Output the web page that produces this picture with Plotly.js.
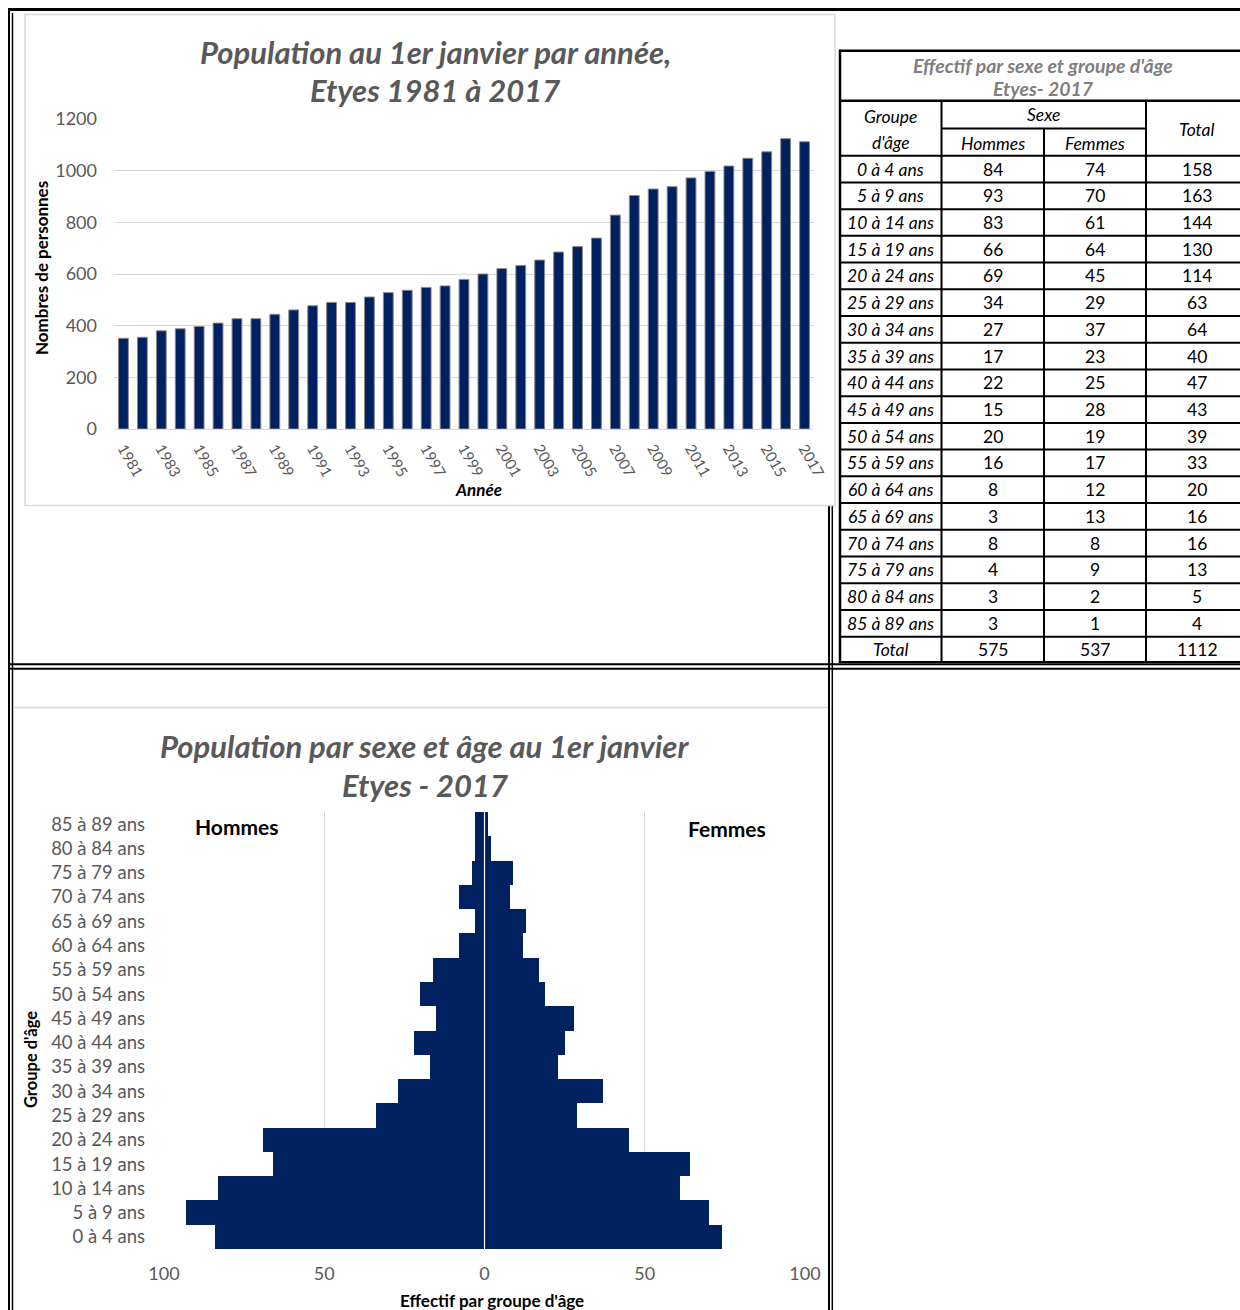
<!DOCTYPE html>
<html>
<head>
<meta charset="utf-8">
<script src="https://cdn.plot.ly/plotly-3.0.1.min.js"></script>
<style>
  html, body { margin: 0; padding: 0; background: #ffffff; }
  #page { width: 1240px; height: 1310px; }
</style>
</head>
<body>
<div id="page"></div>
<script>
// Population au 1er janvier, Etyes 1981-2017
const years = [1981, 1982, 1983, 1984, 1985, 1986, 1987, 1988, 1989, 1990,
               1991, 1992, 1993, 1994, 1995, 1996, 1997, 1998, 1999, 2000,
               2001, 2002, 2003, 2004, 2005, 2006, 2007, 2008, 2009, 2010,
               2011, 2012, 2013, 2014, 2015, 2016, 2017];
const population = [351, 355, 380, 388, 397, 410, 427, 427, 444, 461,
                    477, 490, 490, 511, 528, 537, 548, 554, 579, 600,
                    621, 633, 654, 685, 706, 739, 828, 904, 929, 938,
                    972, 997, 1018, 1048, 1073, 1124, 1112];
const yearTickLabels = ["1981", "1983", "1985", "1987", "1989", "1991", "1993",
                        "1995", "1997", "1999", "2001", "2003", "2005", "2007",
                        "2009", "2011", "2013", "2015", "2017"];

// Effectif par sexe et groupe d'âge, 2017
const ageGroups = ["0 à 4 ans", "5 à 9 ans", "10 à 14 ans", "15 à 19 ans", "20 à 24 ans",
                   "25 à 29 ans", "30 à 34 ans", "35 à 39 ans", "40 à 44 ans", "45 à 49 ans",
                   "50 à 54 ans", "55 à 59 ans", "60 à 64 ans", "65 à 69 ans", "70 à 74 ans",
                   "75 à 79 ans", "80 à 84 ans", "85 à 89 ans"];
const hommes = [84, 93, 83, 66, 69, 34, 27, 17, 22, 15, 20, 16, 8, 3, 8, 4, 3, 3];
const femmes = [74, 70, 61, 64, 45, 29, 37, 23, 25, 28, 19, 17, 12, 13, 8, 9, 2, 1];
const pyramidTickVals = [-100, -50, 0, 50, 100];
const pyramidTickText = ["100", "50", "0", "50", "100"];

// ---- page geometry helpers (pixel -> paper) ----
const W = 1240, H = 1310;
const px = x => x / W;
const py = y => 1 - y / H;

const FONT = "Lato, 'Open Sans', sans-serif";
const NAVY = "#002060";
const GREY_TXT = "#595959";
const GRID = "#d9d9d9";

const shapes = [];
const annotations = [];

function hline(x0, x1, y, width, color) {
  shapes.push({type: "line", xref: "paper", yref: "paper",
    x0: px(x0), x1: px(x1), y0: py(y), y1: py(y),
    line: {color: color || "#000000", width: width}});
}
function vline(x, y0, y1, width, color) {
  shapes.push({type: "line", xref: "paper", yref: "paper",
    x0: px(x), x1: px(x), y0: py(y0), y1: py(y1),
    line: {color: color || "#000000", width: width}});
}
function label(text, x, y, size, opts) {
  opts = opts || {};
  annotations.push(Object.assign({
    text: text, xref: "paper", yref: "paper", x: px(x), y: py(y),
    xanchor: "center", yanchor: "middle", showarrow: false,
    font: {family: FONT, size: size, color: opts.color || "#000000"}
  }, opts.extra || {}));
}

// ---- page frame (double rules) ----
hline(8, 1240, 9.5, 3);
vline(9, 8, 1310, 2);
vline(12.5, 13, 1310, 1.5);
hline(8, 1240, 664.3, 2);
hline(8, 1240, 668.7, 2);
vline(829, 505, 1310, 2);
vline(832.3, 505, 1310, 1.5);

// chart frames
shapes.push({type: "rect", xref: "paper", yref: "paper",
  x0: px(25), x1: px(835), y0: py(505.5), y1: py(14.5),
  line: {color: GRID, width: 1.5}, fillcolor: "rgba(0,0,0,0)"});
hline(13, 828, 707.5, 1.5, GRID);

// ---- bar chart titles ----
label("<b><i>Population au 1er janvier par année,</i></b>", 435, 52, 31, {color: GREY_TXT});
label("<b><i>Etyes 1981 à 2017</i></b>", 435, 90, 31, {color: GREY_TXT});
label("<b>Nombres de personnes</b>", 42, 268, 17, {extra: {textangle: -90}});
label("<b><i>Année</i></b>", 478, 489, 17);

// ---- pyramid titles ----
label("<b><i>Population par sexe et âge au 1er janvier</i></b>", 425, 746, 31, {color: GREY_TXT});
label("<b><i>Etyes - 2017</i></b>", 425, 785, 31, {color: GREY_TXT});
label("<b>Hommes</b>", 237, 826, 21);
label("<b>Femmes</b>", 727, 828, 21);
label("<b>Groupe d'âge</b>", 31, 1060, 16.5, {extra: {textangle: -90}});
label("<b>Effectif par groupe d'âge</b>", 492, 1300, 17);

// white centre rule of the pyramid
shapes.push({type: "line", xref: "x2", yref: "y2 domain",
  x0: 0, x1: 0, y0: 0, y1: 1, line: {color: "#ffffff", width: 1.2}, layer: "above"});

// ---- table ----
const T = {left: 840, c1: 941.5, c2: 1044, c3: 1146, right: 1240,
           top: 50.7, titleBottom: 100.7, sexeBottom: 128.5, headBottom: 155.7,
           rowH: 26.72, bottom: 662};
const colCenters = [(T.left + T.c1) / 2, (T.c1 + T.c2) / 2, (T.c2 + T.c3) / 2, (T.c3 + 1248) / 2];
const CELL = 17.5;

// title row
label("<b><i>Effectif par sexe et groupe d'âge</i></b>", 1043, 66, 19.5, {color: "#7f7f7f"});
label("<b><i>Etyes- 2017</i></b>", 1043, 88, 19.5, {color: "#7f7f7f"});
// header rows
label("<i>Groupe</i>", colCenters[0], 116, CELL);
label("<i>d'âge</i>", colCenters[0], 142, CELL);
label("<i>Sexe</i>", (T.c1 + T.c3) / 2, 115, CELL);
label("<i>Hommes</i>", colCenters[1], 143, CELL);
label("<i>Femmes</i>", colCenters[2], 143, CELL);
label("<i>Total</i>", colCenters[3], 129, CELL);

// data rows (youngest first) and total row
const totals = hommes.map((h, i) => h + femmes[i]);
const sum = a => a.reduce((s, v) => s + v, 0);
ageGroups.forEach((g, i) => {
  const yc = T.headBottom + (i + 0.5) * T.rowH;
  label("<i>" + g + "</i>", colCenters[0], yc, CELL);
  label(String(hommes[i]), colCenters[1], yc, CELL);
  label(String(femmes[i]), colCenters[2], yc, CELL);
  label(String(totals[i]), colCenters[3], yc, CELL);
});
const totalTop = T.headBottom + ageGroups.length * T.rowH;
const totalYc = (totalTop + T.bottom) / 2;
label("<i>Total</i>", colCenters[0], totalYc, CELL);
label(String(sum(hommes)), colCenters[1], totalYc, CELL);
label(String(sum(femmes)), colCenters[2], totalYc, CELL);
label(String(sum(totals)), colCenters[3], totalYc, CELL);

// table rules
hline(T.left - 1, T.right, T.top, 2.5);
hline(T.left, T.right, T.titleBottom, 2.5);
hline(T.c1, T.c3, T.sexeBottom, 2);
hline(T.left, T.right, T.headBottom, 2);
for (let k = 1; k <= ageGroups.length; k++) {
  hline(T.left, T.right, T.headBottom + k * T.rowH, 2);
}
hline(T.left, T.right, T.bottom, 2);
vline(T.left, T.top - 1, T.bottom + 1, 2.5);
vline(T.c1, T.titleBottom, T.bottom, 2);
vline(T.c2, T.sexeBottom, T.bottom, 2);
vline(T.c3, T.titleBottom, T.bottom, 2);

// ---- traces ----
const traces = [
  {
    type: "bar", x: years.map(String), y: population, xaxis: "x", yaxis: "y",
    width: 0.52,
    marker: {color: NAVY, line: {color: "#8a8a8a", width: 1}},
    hoverinfo: "x+y", showlegend: false
  },
  {
    type: "bar", orientation: "h", y: ageGroups, x: hommes.map(v => -v),
    xaxis: "x2", yaxis: "y2", name: "Hommes",
    marker: {color: NAVY, line: {width: 0}}, showlegend: false
  },
  {
    type: "bar", orientation: "h", y: ageGroups, x: femmes,
    xaxis: "x2", yaxis: "y2", name: "Femmes",
    marker: {color: NAVY, line: {width: 0}}, showlegend: false
  }
];

const tickFont = {family: FONT, size: 18, color: GREY_TXT};

const layout = {
  width: W, height: H,
  margin: {l: 0, r: 0, t: 0, b: 0},
  paper_bgcolor: "#ffffff", plot_bgcolor: "rgba(0,0,0,0)",
  showlegend: false,
  barmode: "relative", bargap: 0,
  font: {family: FONT},
  xaxis: {
    domain: [px(114), px(814)], anchor: "y", type: "category",
    tickmode: "array", tickvals: yearTickLabels, ticktext: yearTickLabels,
    tickangle: 60, tickfont: {family: FONT, size: 15, color: GREY_TXT},
    ticklabelstandoff: 4,
    showgrid: false, showline: true, linecolor: GRID, linewidth: 1,
    ticks: "", zeroline: false, fixedrange: true
  },
  yaxis: {
    domain: [py(429), py(119)], anchor: "x", range: [0, 1200], dtick: 200,
    tickfont: tickFont, ticklabelstandoff: 16,
    showgrid: true, gridcolor: GRID, gridwidth: 1,
    zeroline: false, showline: false, ticks: "", fixedrange: true
  },
  xaxis2: {
    domain: [px(164), px(805)], anchor: "y2", range: [-100, 100],
    tickmode: "array", tickvals: pyramidTickVals, ticktext: pyramidTickText,
    tickfont: tickFont, ticklabelstandoff: 12,
    showgrid: true, gridcolor: GRID, gridwidth: 1,
    zeroline: false, showline: false, ticks: "", fixedrange: true
  },
  yaxis2: {
    domain: [py(1249), py(812)], anchor: "x2", type: "category",
    tickfont: {family: FONT, size: 18.5, color: GREY_TXT}, ticklabelstandoff: 18,
    showgrid: false, zeroline: false, showline: false, ticks: "", fixedrange: true
  },
  shapes: shapes,
  annotations: annotations
};

Plotly.newPlot("page", traces, layout, {displayModeBar: false, staticPlot: true});
</script>
</body>
</html>
